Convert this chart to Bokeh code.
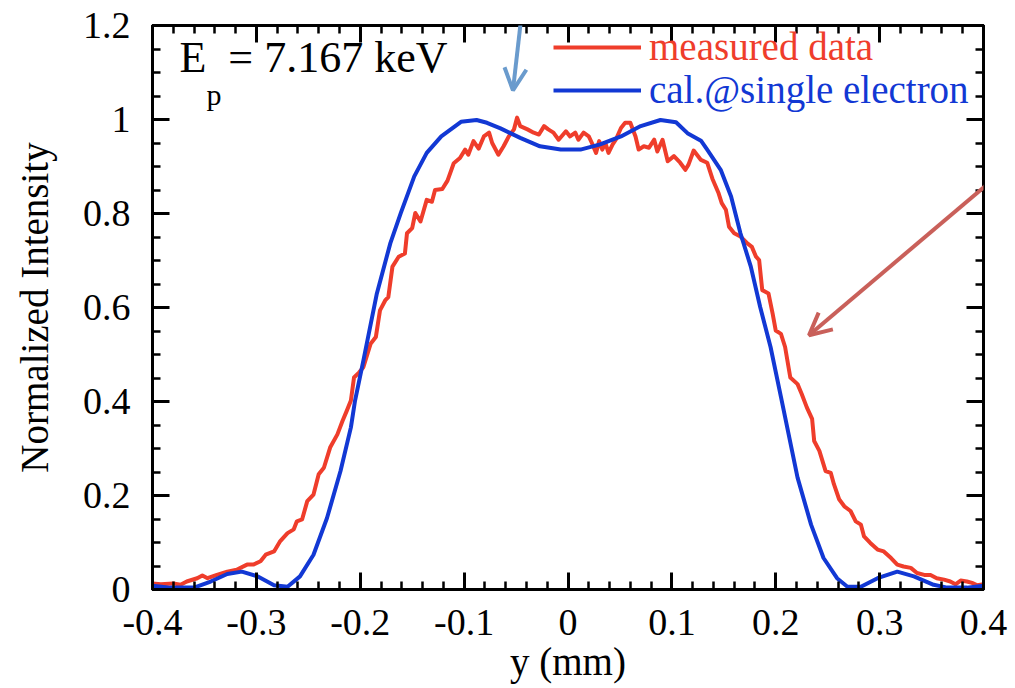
from bokeh.plotting import figure
from bokeh.models import (Range1d, FixedTicker, LinearAxis, Legend, LegendItem,
                          Label, Arrow, OpenHead, ColumnDataSource, CustomLabelingPolicy)
from bokeh.embed import file_html
from bokeh.resources import INLINE

# ---------------- data ----------------
y_measured = [
    -0.400, -0.392, -0.380, -0.373, -0.367, -0.357, -0.352, -0.347, -0.338, -0.328,
    -0.319, -0.309, -0.303, -0.296, -0.291, -0.283, -0.277, -0.270, -0.264, -0.261,
    -0.256, -0.251, -0.245, -0.240, -0.235, -0.229, -0.222, -0.217, -0.213, -0.209,
    -0.206, -0.201, -0.197, -0.190, -0.185, -0.181, -0.176, -0.173, -0.169, -0.163,
    -0.157, -0.155, -0.150, -0.147, -0.142, -0.136, -0.131, -0.128, -0.121, -0.116,
    -0.110, -0.104, -0.099, -0.096, -0.091, -0.086, -0.081, -0.076, -0.073, -0.067,
    -0.062, -0.057, -0.052, -0.049, -0.046, -0.039, -0.033, -0.028, -0.023, -0.019,
    -0.014, -0.009, -0.002, 0.002, 0.007, 0.010, 0.015, 0.020, 0.023, 0.027,
    0.030, 0.033, 0.036, 0.039, 0.043, 0.046, 0.051, 0.055, 0.060, 0.065,
    0.068, 0.073, 0.078, 0.083, 0.086, 0.091, 0.096, 0.102, 0.108, 0.113,
    0.116, 0.121, 0.128, 0.134, 0.139, 0.145, 0.148, 0.152, 0.155, 0.160,
    0.166, 0.173, 0.177, 0.181, 0.184, 0.187, 0.193, 0.197, 0.200, 0.205,
    0.209, 0.214, 0.221, 0.225, 0.230, 0.235, 0.237, 0.242, 0.248, 0.253,
    0.256, 0.261, 0.266, 0.272, 0.277, 0.282, 0.285, 0.291, 0.298, 0.304,
    0.311, 0.317, 0.323, 0.330, 0.336, 0.343, 0.349, 0.355, 0.362, 0.368,
    0.373, 0.378, 0.384, 0.389, 0.394, 0.400,
]
intensity_measured = [
    0.013, 0.011, 0.013, 0.010, 0.017, 0.024, 0.030, 0.024, 0.031, 0.038,
    0.042, 0.053, 0.053, 0.060, 0.074, 0.081, 0.103, 0.120, 0.128, 0.145,
    0.149, 0.188, 0.202, 0.245, 0.259, 0.302, 0.330, 0.359, 0.380, 0.402,
    0.451, 0.462, 0.473, 0.523, 0.537, 0.594, 0.615, 0.622, 0.687, 0.708,
    0.715, 0.758, 0.769, 0.801, 0.783, 0.829, 0.825, 0.850, 0.852, 0.870,
    0.907, 0.918, 0.936, 0.925, 0.954, 0.938, 0.964, 0.972, 0.950, 0.925,
    0.943, 0.964, 0.979, 1.004, 0.986, 0.979, 0.972, 0.968, 0.986, 0.979,
    0.972, 0.957, 0.975, 0.964, 0.972, 0.957, 0.972, 0.964, 0.950, 0.929,
    0.954, 0.936, 0.950, 0.929, 0.947, 0.957, 0.982, 0.993, 0.993, 0.964,
    0.936, 0.943, 0.940, 0.957, 0.932, 0.957, 0.911, 0.922, 0.908, 0.893,
    0.904, 0.934, 0.914, 0.908, 0.874, 0.843, 0.822, 0.808, 0.772, 0.758,
    0.751, 0.736, 0.729, 0.708, 0.701, 0.637, 0.630, 0.587, 0.551, 0.544,
    0.516, 0.451, 0.437, 0.416, 0.387, 0.363, 0.316, 0.295, 0.252, 0.248,
    0.224, 0.192, 0.177, 0.167, 0.145, 0.138, 0.113, 0.099, 0.085, 0.081,
    0.067, 0.053, 0.049, 0.046, 0.035, 0.031, 0.031, 0.024, 0.021, 0.017,
    0.011, 0.019, 0.017, 0.014, 0.009, 0.011,
]

y_calculated = [
    -0.400, -0.383, -0.360, -0.344, -0.328, -0.314, -0.299, -0.283, -0.270, -0.258,
    -0.245, -0.232, -0.219, -0.209, -0.205, -0.197, -0.184, -0.171, -0.161, -0.148,
    -0.136, -0.122, -0.103, -0.088, -0.078, -0.065, -0.046, -0.027, -0.007, 0.012,
    0.031, 0.051, 0.070, 0.089, 0.104, 0.115, 0.128, 0.134, 0.147, 0.157,
    0.166, 0.176, 0.185, 0.195, 0.205, 0.221, 0.234, 0.246, 0.259, 0.269,
    0.282, 0.298, 0.317, 0.333, 0.352, 0.365, 0.384, 0.400,
]
intensity_calculated = [
    0.008, 0.004, 0.004, 0.017, 0.033, 0.038, 0.028, 0.009, 0.006, 0.028,
    0.074, 0.152, 0.252, 0.345, 0.402, 0.487, 0.630, 0.737, 0.801, 0.879,
    0.929, 0.964, 0.995, 0.999, 0.993, 0.981, 0.961, 0.943, 0.936, 0.936,
    0.947, 0.964, 0.986, 0.999, 0.994, 0.971, 0.955, 0.936, 0.893, 0.836,
    0.758, 0.687, 0.601, 0.516, 0.410, 0.238, 0.138, 0.067, 0.024, 0.006,
    0.006, 0.024, 0.038, 0.028, 0.010, 0.004, 0.004, 0.008,
]

x_ticks = [-0.4, -0.3, -0.2, -0.1, 0.0, 0.1, 0.2, 0.3, 0.4]
x_tick_labels = ["-0.4", "-0.3", "-0.2", "-0.1", "0", "0.1", "0.2", "0.3", "0.4"]
y_ticks = [0.0, 0.2, 0.4, 0.6, 0.8, 1.0, 1.2]
y_tick_labels = ["0", "0.2", "0.4", "0.6", "0.8", "1", "1.2"]
x_minor = [round(-0.4 + 0.02 * i, 3) for i in range(41)]
y_minor = [round(0.05 * i, 3) for i in range(25)]

series_names = ["measured data", "cal.@single electron"]
energy_text = ["E", "p", "= 7.167 keV"]

RED = "#EF3D2B"
BLUE = "#1238D4"
FONT = "Liberation Serif"

# ---------------- figure ----------------
p = figure(width=1015, height=688, output_backend="svg", toolbar_location=None,
           x_range=Range1d(-0.4, 0.4), y_range=Range1d(0, 1.2),
           min_border_left=152, min_border_right=32, min_border_top=25,
           min_border_bottom=99)
p.xgrid.visible = False
p.ygrid.visible = False
p.outline_line_color = "black"
p.outline_line_width = 3
p.background_fill_color = "white"
p.border_fill_color = "white"

xt = FixedTicker(ticks=x_ticks, minor_ticks=x_minor)
yt = FixedTicker(ticks=y_ticks, minor_ticks=y_minor)


def style_axis(ax, ticker, labels=None, show=True):
    ax.ticker = ticker
    ax.axis_line_color = "black"
    ax.axis_line_width = 3
    ax.major_tick_in = 17
    ax.major_tick_out = 0
    ax.minor_tick_in = 8
    ax.minor_tick_out = 0
    ax.major_tick_line_width = 3
    ax.minor_tick_line_width = 2.5
    ax.major_tick_line_color = "black"
    ax.minor_tick_line_color = "black"
    if show:
        ax.major_label_text_font = FONT
        ax.major_label_text_font_size = "38px"
        ax.major_label_text_color = "black"
        ax.major_label_overrides = {t: l for t, l in zip(ticker.ticks, labels)}
        ax.axis_label_text_font = FONT
        ax.axis_label_text_font_size = "39px"
        ax.axis_label_text_font_style = "normal"
        ax.axis_label_text_color = "black"
    else:
        # mirrored frame ticks only: no labels are drawn
        ax.major_label_policy = CustomLabelingPolicy(code="return []")
        ax.major_label_standoff = 0


xa = p.xaxis[0]
ya = p.yaxis[0]
style_axis(xa, xt, x_tick_labels)
style_axis(ya, yt, y_tick_labels)
xa.axis_label = "y (mm)"
ya.axis_label = "Normalized Intensity"
xa.major_label_standoff = 20
xa.axis_label_standoff = 2
ya.major_label_standoff = 22
ya.axis_label_standoff = 24

top_ax = LinearAxis()
right_ax = LinearAxis()
style_axis(top_ax, xt, show=False)
style_axis(right_ax, yt, show=False)
p.add_layout(top_ax, "above")
p.add_layout(right_ax, "right")

# ---------------- curves ----------------
src_m = ColumnDataSource(dict(x=y_measured, y=intensity_measured))
src_c = ColumnDataSource(dict(x=y_calculated, y=intensity_calculated))
r_m = p.line("x", "y", source=src_m, line_color=RED, line_width=4, line_join="round")
r_c = p.line("x", "y", source=src_c, line_color=BLUE, line_width=4, line_join="round")

# ---------------- legends (one per colour) ----------------
for r, name, col, loc in [(r_m, series_names[0], RED, (401, 520)),
                          (r_c, series_names[1], BLUE, (401, 477))]:
    lg = Legend(items=[LegendItem(label=name, renderers=[r])], location=loc,
                glyph_width=88, glyph_height=30, label_height=30, label_standoff=8,
                padding=0, margin=0, spacing=0, border_line_alpha=0,
                background_fill_alpha=0, label_text_font=FONT,
                label_text_font_size="39px", label_text_color=col)
    p.add_layout(lg, "center")

# ---------------- energy annotation ----------------
p.add_layout(Label(x=-0.374, y=1.080, text=energy_text[0], text_font=FONT,
                   text_font_size="44px", text_color="black"))
p.add_layout(Label(x=-0.348, y=1.018, text=energy_text[1], text_font=FONT,
                   text_font_size="30px", text_color="black"))
p.add_layout(Label(x=-0.327, y=1.080, text=energy_text[2], text_font=FONT,
                   text_font_size="44px", text_color="black"))

# ---------------- arrows ----------------
p.add_layout(Arrow(x_start=-0.043, y_start=1.256, x_end=-0.053, y_end=1.062,
                   line_color="#6A9BCD", line_width=4,
                   end=OpenHead(size=22, line_color="#6A9BCD", line_width=4)))
p.add_layout(Arrow(x_start=0.426, y_start=0.904, x_end=0.232, y_end=0.541,
                   line_color="#C9605A", line_width=4,
                   end=OpenHead(size=22, line_color="#C9605A", line_width=4)))

open("out.html", "w").write(file_html(p, INLINE))
